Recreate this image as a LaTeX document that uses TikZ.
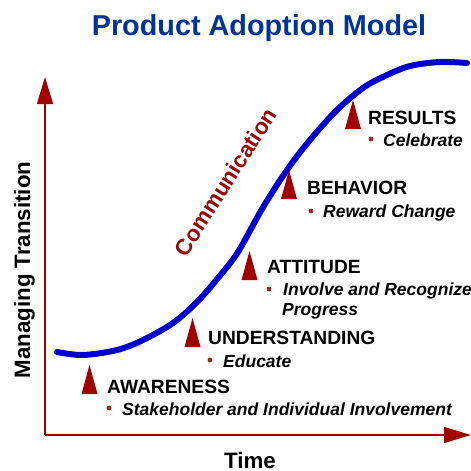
\documentclass[tikz,border=0pt]{standalone}
\usepackage{fontspec}
\setmainfont{Liberation Sans}
\usetikzlibrary{arrows.meta}

\definecolor{titleblue}{RGB}{0,51,153}
\definecolor{axisred}{RGB}{160,0,0}
\definecolor{markred}{RGB}{160,0,0}
\definecolor{commred}{RGB}{153,10,10}
\definecolor{bulletred}{RGB}{150,40,40}
\definecolor{curveblue}{RGB}{0,0,204}

\tikzset{
  axis/.style={draw=axisred, line width=1.3pt, -{Triangle[length=27pt,width=16pt]}},
  curve/.style={draw=curveblue, line width=6pt, line cap=round, line join=round},
  stagehead/.style={anchor=base west, inner sep=0pt, font=\bfseries\fontsize{19.2}{22}\selectfont},
  stageitem/.style={anchor=base west, inner sep=0pt, font=\bfseries\itshape\fontsize{17.5}{20}\selectfont},
  axislabel/.style={inner sep=0pt, font=\bfseries\fontsize{22.3}{25}\selectfont},
  stagemark/.pic={\fill[markred] (-8,0) -- (0,-29) -- (8,0) -- cycle;},
  bulletdot/.pic={\fill[bulletred] (0,0) circle (2.4);}
}

\begin{document}
\begin{tikzpicture}[x=1pt, y=-1pt]
\useasboundingbox (0,0) rectangle (471,471);

% title
\node[anchor=base, inner sep=0pt, text=titleblue,
      font=\bfseries\fontsize{28.8}{32}\selectfont] (title) at (259,35) {Product Adoption Model};

% axes
\coordinate (origin) at (45,435);
\coordinate (ytip) at (45,77);
\coordinate (xtip) at (471,435);
\draw[axis] (origin) -- (ytip);
\draw[axis] (origin) -- (xtip);

\node[axislabel, anchor=base, rotate=90] (ylabel) at (30,270) {Managing Transition};
\node[axislabel, anchor=base] (xlabel) at (250,468) {Time};

% adoption curve
\draw[curve] plot[smooth, tension=0.55] coordinates {
  (57,352) (83,355) (117,350) (143,340) (173,323) (197,302) (218,278)
  (238,252) (262,209) (287,170) (310,140) (337,110) (363,88) (385,76)
  (410,66) (440,62) (467,63)};

\node[inner sep=0pt, rotate=57.5, text=commred,
      font=\bfseries\fontsize{22.5}{26}\selectfont] (comm) at (225.5,182) {Communication};

% stages
\pic at (89.5,394) {stagemark};
\node[stagehead] (aware) at (107,393) {AWARENESS};
\pic at (109,408) {bulletdot};
\node[stageitem] (awareitem) at (122,415) {Stakeholder and Individual Involvement};

\pic at (192.5,347) {stagemark};
\node[stagehead] (under) at (208,344) {UNDERSTANDING};
\pic at (210,360) {bulletdot};
\node[stageitem] (underitem) at (223,367) {Educate};

\pic at (249.5,280) {stagemark};
\node[stagehead] (att) at (267,273) {ATTITUDE};
\pic at (269,289) {bulletdot};
\node[stageitem] (attitem) at (283,295) {Involve and Recognize};
\node[stageitem] (attitem2) at (282,315) {Progress};

\pic at (289,199) {stagemark};
\node[stagehead] (beh) at (307,194) {BEHAVIOR};
\pic at (311,211) {bulletdot};
\node[stageitem] (behitem) at (323,217) {Reward Change};

\pic at (353,129) {stagemark};
\node[stagehead] (res) at (368,124) {RESULTS};
\pic at (371,139) {bulletdot};
\node[stageitem] (resitem) at (383,146) {Celebrate};
\end{tikzpicture}
\end{document}
